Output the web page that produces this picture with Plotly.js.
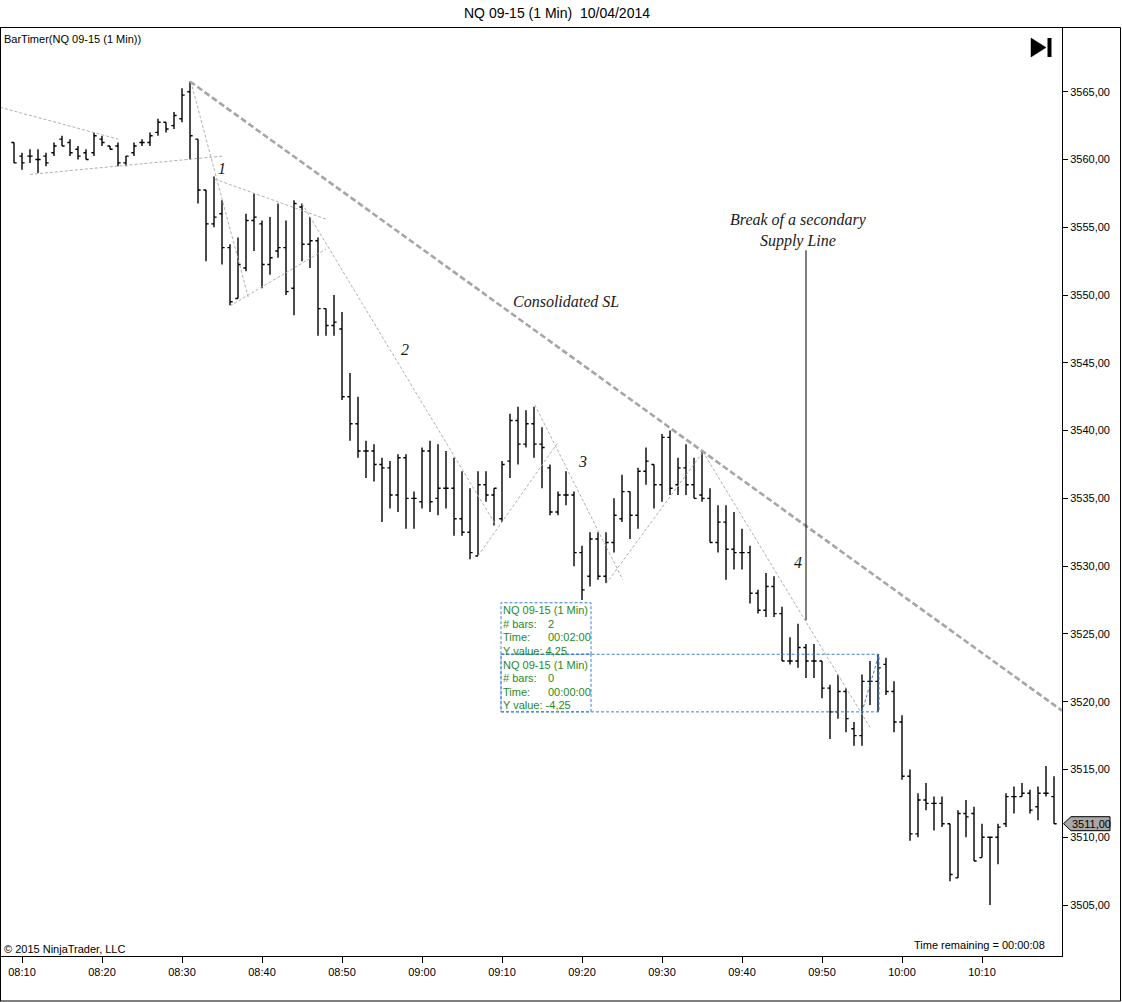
<!DOCTYPE html>
<html>
<head>
<meta charset="utf-8">
<script src="https://cdn.plot.ly/plotly-3.0.1.min.js"></script>
<style>
html,body{margin:0;padding:0;background:#ffffff;}
#chart{width:1122px;height:1002px;}
</style>
</head>
<body>
<div id="chart"></div>
<script>
// ---------------- DATA ----------------
const times = [
 "08:09","08:10","08:11","08:12","08:13","08:14","08:15","08:16","08:17","08:18",
 "08:19","08:20","08:21","08:22","08:23","08:24","08:25","08:26","08:27","08:28",
 "08:29","08:30","08:31","08:32","08:33","08:34","08:35","08:36","08:37","08:38",
 "08:39","08:40","08:41","08:42","08:43","08:44","08:45","08:46","08:47","08:48",
 "08:49","08:50","08:51","08:52","08:53","08:54","08:55","08:56","08:57","08:58",
 "08:59","09:00","09:01","09:02","09:03","09:04","09:05","09:06","09:07","09:08",
 "09:09","09:10","09:11","09:12","09:13","09:14","09:15","09:16","09:17","09:18",
 "09:19","09:20","09:21","09:22","09:23","09:24","09:25","09:26","09:27","09:28",
 "09:29","09:30","09:31","09:32","09:33","09:34","09:35","09:36","09:37","09:38",
 "09:39","09:40","09:41","09:42","09:43","09:44","09:45","09:46","09:47","09:48",
 "09:49","09:50","09:51","09:52","09:53","09:54","09:55","09:56","09:57","09:58",
 "09:59","10:00","10:01","10:02","10:03","10:04","10:05","10:06","10:07","10:08",
 "10:09","10:10","10:11","10:12","10:13","10:14","10:15","10:16","10:17","10:18",
 "10:19"
];
const opens = [
 3561.25,3560.25,3560.25,3560.0,3560.25,3560.5,3561.5,3561.25,3560.75,3560.5,
 3560.5,3561.5,3561.0,3561.0,3559.75,3560.5,3561.25,3561.25,3562.0,3562.75,
 3562.5,3563.0,3565.0,3561.5,3557.75,3555.25,3556.0,3553.5,3549.75,3552.0,
 3555.5,3555.25,3552.25,3553.25,3553.5,3550.5,3556.5,3553.75,3554.0,3549.0,
 3547.75,3547.5,3542.5,3540.5,3538.5,3538.5,3537.5,3537.25,3535.25,3538.0,
 3535.0,3534.75,3538.5,3535.0,3535.75,3535.75,3533.5,3532.5,3530.75,3536.0,
 3535.25,3533.5,3537.75,3540.75,3539.0,3540.5,3539.0,3537.25,3534.0,3535.25,
 3535.25,3531.0,3529.25,3532.0,3529.25,3531.75,3533.5,3535.5,3533.75,3537.0,
 3537.5,3536.0,3539.5,3536.0,3537.25,3536.0,3535.25,3535.0,3531.75,3533.25,
 3531.25,3531.0,3531.0,3528.0,3526.75,3528.5,3526.5,3523.0,3523.0,3524.0,
 3523.0,3523.0,3521.0,3519.25,3520.75,3518.0,3517.5,3521.5,3521.5,3522.75,
 3520.75,3518.5,3514.5,3510.25,3512.75,3512.5,3512.5,3511.0,3507.0,3511.75,
 3511.75,3508.5,3510.0,3510.0,3511.0,3513.0,3513.0,3513.25,3512.25,3513.25,
 3513.0
];
const highs = [
 3561.25,3560.5,3560.75,3560.75,3560.5,3561.25,3561.75,3561.5,3561.0,3560.75,
 3562.0,3561.75,3561.0,3561.25,3560.25,3561.25,3561.5,3562.0,3563.0,3562.75,
 3563.5,3565.25,3565.75,3561.5,3557.75,3558.75,3557.0,3553.75,3554.25,3556.0,
 3557.5,3555.5,3555.75,3556.75,3555.5,3557.0,3556.75,3555.75,3554.25,3549.0,
 3550.0,3548.75,3544.25,3542.5,3539.25,3539.0,3538.0,3537.75,3538.25,3538.25,
 3535.5,3538.75,3539.25,3539.0,3538.5,3538.0,3537.0,3535.75,3537.0,3537.0,
 3535.75,3537.75,3541.25,3541.75,3541.5,3541.75,3540.25,3537.5,3535.5,3537.0,
 3535.5,3531.5,3532.5,3532.5,3532.5,3535.0,3536.75,3535.5,3537.25,3538.75,
 3537.5,3539.75,3540.0,3538.0,3539.0,3538.0,3538.5,3535.75,3534.5,3534.5,
 3534.0,3532.75,3531.5,3528.25,3529.5,3529.25,3527.0,3524.75,3525.75,3524.25,
 3524.25,3523.0,3521.25,3522.0,3521.0,3518.5,3522.0,3523.0,3523.5,3523.25,
 3521.5,3519.0,3515.0,3513.25,3514.0,3513.0,3513.0,3511.0,3512.0,3512.75,
 3512.25,3511.0,3510.0,3511.0,3513.25,3513.75,3514.0,3513.5,3513.75,3515.25,
 3514.5
];
const lows = [
 3559.75,3559.25,3559.75,3559.0,3559.5,3560.25,3561.0,3560.25,3560.0,3560.0,
 3560.25,3561.0,3560.75,3559.5,3559.5,3560.25,3561.0,3561.0,3561.75,3562.0,
 3562.25,3562.75,3560.0,3556.75,3552.5,3555.0,3552.25,3549.25,3549.75,3551.75,
 3553.25,3550.5,3551.5,3552.75,3550.0,3548.5,3552.5,3552.0,3547.0,3547.0,
 3547.0,3542.25,3539.25,3538.0,3536.5,3536.25,3533.25,3534.25,3534.0,3532.75,
 3532.75,3534.25,3534.0,3533.75,3534.25,3532.25,3532.25,3530.5,3530.75,3534.75,
 3533.0,3533.25,3536.5,3537.5,3538.75,3538.0,3535.75,3533.75,3533.75,3534.5,
 3530.0,3527.5,3528.5,3529.0,3528.75,3531.0,3533.25,3532.0,3532.75,3536.0,
 3534.25,3534.75,3535.25,3535.25,3535.25,3535.0,3534.75,3531.75,3531.0,3529.0,
 3529.75,3529.75,3527.25,3526.5,3526.25,3526.25,3523.0,3522.75,3522.5,3521.75,
 3521.75,3520.25,3517.25,3518.75,3517.75,3516.75,3516.75,3519.75,3519.25,3520.5,
 3517.75,3514.25,3509.75,3510.0,3512.0,3510.5,3510.75,3506.75,3507.0,3510.0,
 3508.25,3508.5,3505.0,3508.0,3510.75,3511.75,3513.0,3511.75,3511.25,3513.0,
 3511.0
];
const closes = [
 3559.75,3559.75,3560.25,3560.0,3559.75,3561.0,3561.0,3560.5,3560.25,3560.0,
 3561.75,3561.25,3560.75,3559.75,3560.25,3561.0,3561.25,3561.75,3562.75,3562.25,
 3563.25,3564.75,3561.75,3557.75,3555.25,3555.75,3553.5,3549.5,3552.25,3555.5,
 3555.75,3552.25,3552.75,3553.5,3550.25,3556.75,3553.75,3554.0,3549.0,3547.75,
 3548.0,3542.5,3540.5,3538.5,3538.5,3537.5,3537.25,3535.25,3538.0,3535.0,
 3535.0,3538.5,3534.75,3535.75,3535.75,3533.5,3532.5,3531.0,3536.0,3535.25,
 3535.75,3537.5,3540.75,3539.0,3540.5,3539.0,3538.75,3534.0,3535.25,3535.25,
 3531.0,3528.25,3532.0,3529.25,3531.75,3533.75,3535.5,3533.75,3537.0,3537.75,
 3536.0,3539.5,3535.75,3537.25,3536.0,3535.0,3535.0,3531.75,3533.25,3531.25,
 3531.0,3531.0,3528.0,3526.75,3528.5,3526.5,3523.0,3523.0,3524.0,3523.0,
 3523.0,3521.0,3519.25,3520.75,3518.75,3517.5,3521.5,3521.5,3522.5,3520.75,
 3518.5,3514.5,3510.25,3512.75,3512.5,3512.5,3511.0,3507.25,3511.75,3511.5,
 3508.25,3510.0,3510.0,3510.75,3513.0,3513.0,3513.25,3512.0,3513.25,3513.25,
 3511.0
];
const xTickLabels = ["08:10","08:20","08:30","08:40","08:50","09:00","09:10","09:20","09:30","09:40","09:50","10:00","10:10"];
const yTickValues = [3505,3510,3515,3520,3525,3530,3535,3540,3545,3550,3555,3560,3565];
const lastPrice = 3511.00;

// Drawing tools: [minutes after 08:10, price] pairs
const consolidatedSL = [21, 3565.75, 85, 3538.5];
const thinTrendLines = [
 [-2.75, 3563.85, 12.04, 3561.5],
 [1.0, 3558.9, 25.1, 3560.25],
 [21.1, 3565.75, 28.3, 3549.8],
 [24.1, 3558.55, 38.0, 3555.6],
 [26.0, 3549.2, 38.0, 3553.4],
 [35.0, 3556.75, 59.1, 3533.15],
 [57.0, 3530.75, 66.9, 3539.05],
 [64.1, 3541.9, 75.1, 3529.0],
 [73.0, 3528.7, 85.1, 3538.4],
 [85.1, 3538.45, 106.0, 3518.1]
];
const measureLine = [105.0, 3519.25, 107.1, 3523.45];
const measureRect = [59.875, 3519.25, 107.125, 3523.5];
const infoBox1 = [59.875, 3523.5, 71.125, 3527.3];
const infoBox2 = [59.875, 3519.25, 71.125, 3523.5];
const info1Lines = [["NQ 09-15 (1 Min)",""],["# bars:","2"],["Time:","00:02:00"],["Y value: 4,25",""]];
const info2Lines = [["NQ 09-15 (1 Min)",""],["# bars:","0"],["Time:","00:00:00"],["Y value: -4,25",""]];
const breakLine = [98, 3526.0, 98, 3553.3];
const waveLabels = [["1",25.0,3559.35],["2",47.9,3545.95],["3",70.0,3537.7],["4",97.0,3530.3]];
const slLabel = ["Consolidated SL", 68.0, 3549.55];
const breakLabel = ["Break of a secondary<br>Supply Line", 97.0, 3554.75];

// ---------------- HELPERS ----------------
function toMin(t){ const p=t.split(":"); return (+p[0])*60 + (+p[1]); }
const BASE = toMin("08:10");
const xs = times.map(t => toMin(t) - BASE);
const X_MIN = -2.625, X_MAX = 130;
const Y_MIN = 3501.24, Y_MAX = 3569.70;
function pxX(px){ return (px - 1) / 1061; }
function pyY(py){ return (956 - py) / 928; }
function priceToPaper(p){ return (p - Y_MIN) / (Y_MAX - Y_MIN); }
function fmt(v){ return v.toFixed(2).replace(".", ","); }

const SANS = "Liberation Sans, Arial, sans-serif";
const SERIF = "Liberation Serif, Times New Roman, serif";

// ---------------- TRACE ----------------
const trace = {
  type: "ohlc",
  x: xs, open: opens, high: highs, low: lows, close: closes,
  increasing: {line: {color: "#000000", width: 1.4}},
  decreasing: {line: {color: "#000000", width: 1.4}},
  tickwidth: 0.33,
  hoverinfo: "skip",
  showlegend: false
};

// ---------------- SHAPES ----------------
const shapes = [];
// consolidated supply line, extended to the right edge
(function(){
  const [x0,y0,x1,y1] = consolidatedSL;
  const slope = (y1 - y0) / (x1 - x0);
  shapes.push({type:"line", xref:"x", yref:"y", x0:x0, y0:y0, x1:X_MAX, y1:y0 + slope*(X_MAX - x0),
    line:{color:"#a6a6a6", width:2.6, dash:"6px,3px"}});
})();
thinTrendLines.forEach(l => shapes.push({type:"line", xref:"x", yref:"y", x0:l[0], y0:l[1], x1:l[2], y1:l[3],
  line:{color:"#b0b0b0", width:1, dash:"3px,2px"}}));
shapes.push({type:"line", xref:"x", yref:"y", x0:measureLine[0], y0:measureLine[1], x1:measureLine[2], y1:measureLine[3],
  line:{color:"#3d7fd6", width:1, dash:"3px,2px"}});
[measureRect, infoBox1, infoBox2].forEach(r => shapes.push({type:"rect", xref:"x", yref:"y",
  x0:r[0], y0:r[1], x1:r[2], y1:r[3], line:{color:"#3d7fd6", width:1, dash:"3px,2px"}, fillcolor:"rgba(0,0,0,0)"}));
shapes.push({type:"line", xref:"x", yref:"y", x0:breakLine[0], y0:breakLine[1], x1:breakLine[2], y1:breakLine[3],
  line:{color:"#000000", width:1}});
// outer frame
shapes.push({type:"line", xref:"paper", yref:"paper", x0:pxX(0), y0:pyY(27.5), x1:pxX(1120.5), y1:pyY(27.5), line:{color:"#000", width:1}});
shapes.push({type:"line", xref:"paper", yref:"paper", x0:pxX(1120.5), y0:pyY(27.5), x1:pxX(1120.5), y1:pyY(1001), line:{color:"#000", width:1}});
shapes.push({type:"line", xref:"paper", yref:"paper", x0:pxX(0), y0:pyY(1001), x1:pxX(1120.5), y1:pyY(1001), line:{color:"#000", width:1}});
shapes.push({type:"line", xref:"paper", yref:"paper", x0:pxX(0.5), y0:pyY(27.5), x1:pxX(0.5), y1:pyY(1001), line:{color:"#000", width:1}});
// "go to end" icon
shapes.push({type:"path", xref:"paper", yref:"paper",
  path:`M ${pxX(1031)},${pyY(38)} L ${pxX(1031)},${pyY(57)} L ${pxX(1046)},${pyY(47.5)} Z`,
  fillcolor:"#000", line:{color:"#000", width:0.5}});
shapes.push({type:"rect", xref:"paper", yref:"paper", x0:pxX(1047.5), y0:pyY(38), x1:pxX(1051.5), y1:pyY(57),
  fillcolor:"#000", line:{color:"#000", width:0}});
// last price marker
(function(){
  const yc = priceToPaper(lastPrice), h = 7/928;
  shapes.push({type:"path", xref:"paper", yref:"paper",
    path:`M ${pxX(1063.5)},${yc} L ${pxX(1071)},${yc+h} L ${pxX(1110)},${yc+h} L ${pxX(1110)},${yc-h} L ${pxX(1071)},${yc-h} Z`,
    fillcolor:"#a8a8a8", line:{color:"#000", width:1}});
})();

// ---------------- ANNOTATIONS ----------------
const annotations = [];
const italicFont = {family: SERIF, size: 16, color: "#1a1a1a"};
waveLabels.forEach(w => annotations.push({xref:"x", yref:"y", x:w[1], y:w[2], text:"<i>"+w[0]+"</i>",
  showarrow:false, font:italicFont, xanchor:"center", yanchor:"middle"}));
annotations.push({xref:"x", yref:"y", x:slLabel[1], y:slLabel[2], text:"<i>"+slLabel[0]+"</i>",
  showarrow:false, font:italicFont, xanchor:"center", yanchor:"middle"});
annotations.push({xref:"x", yref:"y", x:breakLabel[1], y:breakLabel[2], text:"<i>"+breakLabel[0]+"</i>",
  showarrow:false, font:italicFont, xanchor:"center", yanchor:"middle", align:"center"});
function addInfo(lines, topPrice){
  lines.forEach((ln, i) => {
    const y = topPrice - i*0.996;
    annotations.push({xref:"x", yref:"y", x:59.9, y:y, text:ln[0], showarrow:false, xanchor:"left", yanchor:"middle",
      font:{family:SANS, size:11, color:"#1f8a1f"}});
    if (ln[1]) annotations.push({xref:"x", yref:"y", x:65.45, y:y, text:ln[1], showarrow:false, xanchor:"left", yanchor:"middle",
      font:{family:SANS, size:11, color:"#1f8a1f"}});
  });
}
addInfo(info1Lines, 3526.76);
addInfo(info2Lines, 3522.71);
annotations.push({xref:"paper", yref:"paper", x:pxX(2), y:pyY(39), text:"BarTimer(NQ 09-15 (1 Min))",
  showarrow:false, xanchor:"left", yanchor:"middle", font:{family:SANS, size:11, color:"#000"}});
annotations.push({xref:"paper", yref:"paper", x:pxX(2), y:pyY(949), text:"© 2015 NinjaTrader, LLC",
  showarrow:false, xanchor:"left", yanchor:"middle", font:{family:SANS, size:11, color:"#000"}});
annotations.push({xref:"paper", yref:"paper", x:pxX(1047), y:pyY(945), text:"Time remaining = 00:00:08",
  showarrow:false, xanchor:"right", yanchor:"middle", font:{family:SANS, size:11, color:"#000"}});
annotations.push({xref:"paper", yref:"paper", x:pxX(1091), y:priceToPaper(lastPrice), text:fmt(lastPrice),
  showarrow:false, xanchor:"center", yanchor:"middle", font:{family:SANS, size:11, color:"#000"}});

// ---------------- LAYOUT ----------------
const layout = {
  width: 1122, height: 1002,
  margin: {l:1, r:60, t:28, b:46, pad:0},
  paper_bgcolor: "#ffffff", plot_bgcolor: "#ffffff",
  showlegend: false,
  title: {text: "NQ 09-15 (1 Min)\u00a0\u00a010/04/2014", x: 557/1122, xref:"container", xanchor:"center",
          y: 1 - 13/1002, yref:"container", yanchor:"middle", font:{family:SANS, size:14, color:"#000"}},
  xaxis: {
    range: [X_MIN, X_MAX], rangeslider: {visible:false},
    tickmode: "array", tickvals: xTickLabels.map(t => toMin(t) - BASE), ticktext: xTickLabels,
    ticks: "outside", ticklen: 6, tickcolor: "#000", tickwidth: 1,
    showline: true, linecolor: "#000", linewidth: 1,
    showgrid: false, zeroline: false, fixedrange: true,
    tickfont: {family: SANS, size: 11, color: "#000"}
  },
  yaxis: {
    side: "right", range: [Y_MIN, Y_MAX],
    tickmode: "array", tickvals: yTickValues, ticktext: yTickValues.map(fmt),
    ticks: "outside", ticklen: 5, tickcolor: "#000", tickwidth: 1,
    showline: true, linecolor: "#000", linewidth: 1,
    showgrid: false, zeroline: false, fixedrange: true,
    tickfont: {family: SANS, size: 11, color: "#000"}
  },
  shapes: shapes,
  annotations: annotations
};

Plotly.newPlot("chart", [trace], layout, {staticPlot: true, displayModeBar: false});
</script>
</body>
</html>
